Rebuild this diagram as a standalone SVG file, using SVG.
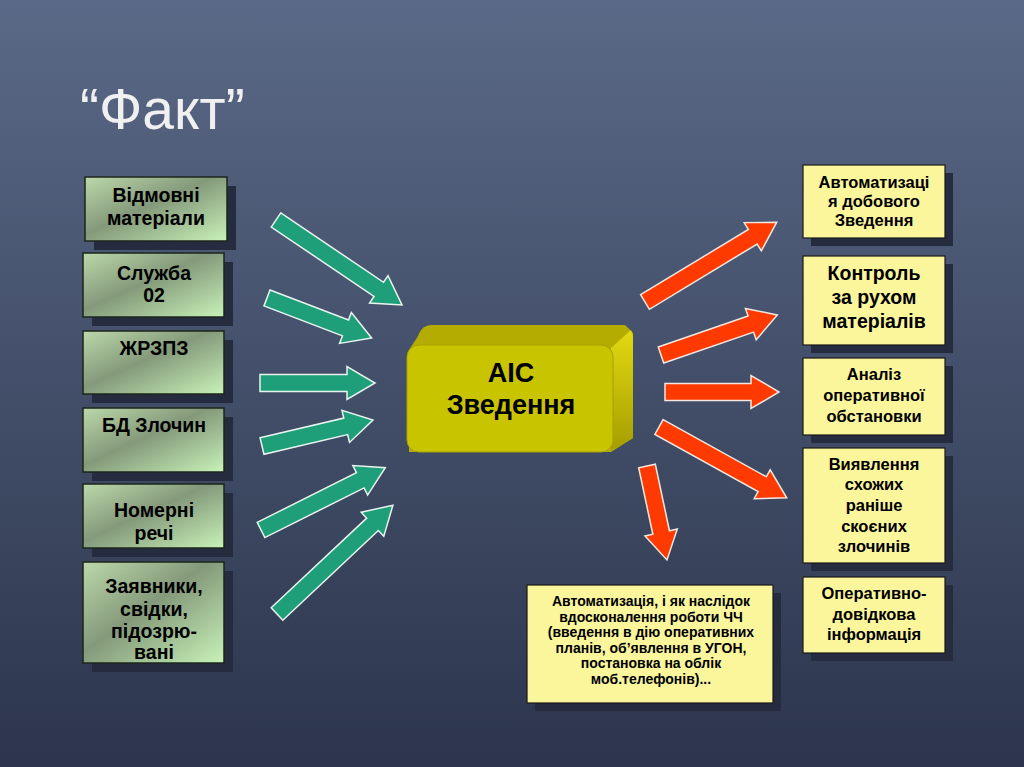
<svg xmlns="http://www.w3.org/2000/svg" width="1024" height="767" viewBox="0 0 1024 767">
<defs>
<linearGradient id="bg" x1="0" y1="0" x2="0" y2="1">
<stop offset="0" stop-color="#5a6987"/>
<stop offset="1" stop-color="#2c354c"/>
</linearGradient>
<linearGradient id="gr" x1="0" y1="0" x2="1" y2="1">
<stop offset="0" stop-color="#bcd8aa"/>
<stop offset="0.45" stop-color="#84997a"/>
<stop offset="1" stop-color="#c8f2b8"/>
</linearGradient>
<linearGradient id="side" x1="0" y1="0" x2="0" y2="1">
<stop offset="0" stop-color="#e2da10"/>
<stop offset="1" stop-color="#a59d00"/>
</linearGradient>
<style>
.sh{fill:#252c3f}
.gbox{fill:url(#gr);stroke:#1b261b;stroke-width:1.5}
.ybox{fill:#fbf69c;stroke:#1a1a1a;stroke-width:1.2}
.t{font-family:"Liberation Sans",Arial,sans-serif;font-weight:bold;fill:#000;text-anchor:middle}
.gt{font-size:19.5px}
.yt{font-size:16.5px}
.bt{font-size:14px}
.ga{fill:#1f9e7a;stroke:#e8f4ee;stroke-width:1.5;stroke-linejoin:miter}
.ra{fill:#ff3a00;stroke:#f4e8e0;stroke-width:1.5;stroke-linejoin:miter}
</style>
</defs>
<rect width="1024" height="767" fill="url(#bg)"/>
<text x="80" y="129" font-family="'Liberation Sans',Arial,sans-serif" font-size="57" fill="#f0f0f0">“Факт”</text>

<g id="connectors">
<polygon class="ga" transform="translate(276,220) rotate(34)" points="0,-8.5 124,-8.5 124,-16.5 152,0 124,16.5 124,8.5 0,8.5"/>
<polygon class="ga" transform="translate(267,298) rotate(20.9)" points="0,-8.5 84,-8.5 84,-16.5 112,0 84,16.5 84,8.5 0,8.5"/>
<polygon class="ga" transform="translate(260,383)" points="0,-8.5 87,-8.5 87,-16.5 115,0 87,16.5 87,8.5 0,8.5"/>
<polygon class="ga" transform="translate(262,446) rotate(-13.2)" points="0,-8.5 86,-8.5 86,-16.5 114,0 86,16.5 86,8.5 0,8.5"/>
<polygon class="ga" transform="translate(261,530) rotate(-26.6)" points="0,-8.5 111,-8.5 111,-16.5 139,0 111,16.5 111,8.5 0,8.5"/>
<polygon class="ga" transform="translate(277,614) rotate(-43.2)" points="0,-8.5 131,-8.5 131,-16.5 159,0 131,16.5 131,8.5 0,8.5"/>
<polygon class="ra" transform="translate(645,302) rotate(-31.2)" points="0,-8.5 126,-8.5 126,-16.5 154,0 126,16.5 126,8.5 0,8.5"/>
<polygon class="ra" transform="translate(661,355) rotate(-19)" points="0,-8.5 95,-8.5 95,-16.5 123,0 95,16.5 95,8.5 0,8.5"/>
<polygon class="ra" transform="translate(665,392)" points="0,-8.5 86,-8.5 86,-16.5 114,0 86,16.5 86,8.5 0,8.5"/>
<polygon class="ra" transform="translate(659,427) rotate(29)" points="0,-8.5 118,-8.5 118,-16.5 146,0 118,16.5 118,8.5 0,8.5"/>
<polygon class="ra" transform="translate(647,466) rotate(78)" points="0,-8.5 68,-8.5 68,-16.5 96,0 68,16.5 68,8.5 0,8.5"/>
</g>

<g id="n-vidmovni">
<rect class="sh" x="94" y="186" width="142" height="64"/>
<rect class="gbox" x="85" y="177" width="142" height="64"/>
<text class="t gt" x="156" y="202">Відмовні</text>
<text class="t gt" x="156" y="225">матеріали</text>
</g>
<g id="n-sluzhba">
<rect class="sh" x="92" y="262" width="141" height="64"/>
<rect class="gbox" x="83" y="253" width="141" height="64"/>
<text class="t gt" x="154" y="280">Служба</text>
<text class="t gt" x="154" y="302">02</text>
</g>
<g id="n-zhrzpz">
<rect class="sh" x="92" y="340" width="141" height="63"/>
<rect class="gbox" x="83" y="331" width="141" height="63"/>
<text class="t gt" x="154" y="355">ЖРЗПЗ</text>
</g>
<g id="n-bd">
<rect class="sh" x="92" y="417" width="141" height="64"/>
<rect class="gbox" x="83" y="408" width="141" height="64"/>
<text class="t gt" x="154" y="432">БД Злочин</text>
</g>
<g id="n-nomerni">
<rect class="sh" x="92" y="493" width="141" height="64"/>
<rect class="gbox" x="83" y="484" width="141" height="64"/>
<text class="t gt" x="154" y="517">Номерні</text>
<text class="t gt" x="154" y="540">речі</text>
</g>
<g id="n-zayavnyky">
<rect class="sh" x="92" y="571" width="141" height="101"/>
<rect class="gbox" x="83" y="562" width="141" height="101"/>
<text class="t gt" x="154" y="593">Заявники,</text>
<text class="t gt" x="154" y="616">свідки,</text>
<text class="t gt" x="154" y="638">підозрю-</text>
<text class="t gt" x="154" y="659">вані</text>
</g>

<g id="n-ais">
<rect x="418" y="325" width="215" height="118" rx="14" fill="#b4ac00"/>
<polygon points="409,350 424,327 625,325 633,333 633,438 611,452 409,452" fill="#b4ac00"/>
<polygon points="611,348 631,330 633,336 633,438 611,451" fill="url(#side)"/>
<rect x="407" y="345" width="206" height="107" rx="12" fill="#c9c400" stroke="#a8a200" stroke-width="1"/>
<text class="t" x="511" y="382" font-size="27">АІС</text>
<text class="t" x="511" y="414" font-size="27">Зведення</text>
</g>

<g id="n-avtomatyzatsiia">
<rect class="sh" x="811" y="173" width="142" height="73"/>
<rect class="ybox" x="803" y="165" width="142" height="73"/>
<text class="t yt" x="874" y="188">Автоматизаці</text>
<text class="t yt" x="874" y="207">я добового</text>
<text class="t yt" x="874" y="226">Зведення</text>
</g>
<g id="n-kontrol">
<rect class="sh" x="811" y="264" width="142" height="89"/>
<rect class="ybox" x="803" y="256" width="142" height="89"/>
<text class="t" font-size="19.5" x="874" y="280">Контроль</text>
<text class="t" font-size="19.5" x="874" y="304">за рухом</text>
<text class="t" font-size="19.5" x="874" y="328">матеріалів</text>
</g>
<g id="n-analiz">
<rect class="sh" x="811" y="366" width="142" height="77"/>
<rect class="ybox" x="803" y="358" width="142" height="77"/>
<text class="t yt" x="874" y="380">Аналіз</text>
<text class="t yt" x="874" y="401">оперативної</text>
<text class="t yt" x="874" y="422">обстановки</text>
</g>
<g id="n-vyiavlennia">
<rect class="sh" x="811" y="456" width="142" height="115"/>
<rect class="ybox" x="803" y="448" width="142" height="115"/>
<text class="t yt" x="874" y="470">Виявлення</text>
<text class="t yt" x="874" y="490">схожих</text>
<text class="t yt" x="874" y="511">раніше</text>
<text class="t yt" x="874" y="532">скоєних</text>
<text class="t yt" x="874" y="552">злочинів</text>
</g>
<g id="n-operatyvno">
<rect class="sh" x="811" y="585" width="142" height="76"/>
<rect class="ybox" x="803" y="577" width="142" height="76"/>
<text class="t yt" x="874" y="599">Оперативно-</text>
<text class="t yt" x="874" y="620">довідкова</text>
<text class="t yt" x="874" y="640">інформація</text>
</g>
<g id="n-bottom">
<rect class="sh" x="535" y="593" width="246" height="118"/>
<rect class="ybox" x="527" y="585" width="246" height="118"/>
<text class="t bt" x="651" y="606">Автоматизація, і як наслідок</text>
<text class="t bt" x="651" y="622">вдосконалення роботи ЧЧ</text>
<text class="t bt" x="651" y="637">(введення в дію оперативних</text>
<text class="t bt" x="651" y="653">планів, об’явлення в УГОН,</text>
<text class="t bt" x="651" y="668">постановка на облік</text>
<text class="t bt" x="651" y="684">моб.телефонів)...</text>
</g>
</svg>
